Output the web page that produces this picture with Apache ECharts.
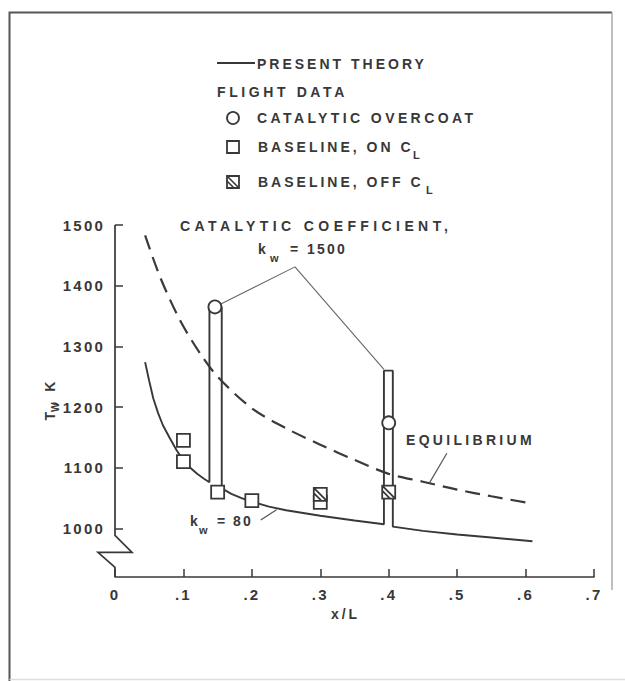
<!DOCTYPE html>
<html><head><meta charset="utf-8">
<script src="https://cdn.jsdelivr.net/npm/echarts@6/dist/echarts.min.js"></script>
<style>
html,body{margin:0;padding:0;background:#fff;}
#chart{width:625px;height:681px;}
#chart text{letter-spacing:3px;}
</style></head><body><div id="chart"></div>
<script>
// ---- data ----
const xTickLabels = ['0', '.1', '.2', '.3', '.4', '.5', '.6', '.7'];
const yTicks = [1000, 1100, 1200, 1300, 1400, 1500];

// present theory (k_w = 80 baseline, jumping to k_w = 1500 on the coated strips)
const theoryX = [0.044, 0.05, 0.056, 0.063, 0.07, 0.08, 0.09, 0.1, 0.11, 0.12, 0.13, 0.138,
                 0.138, 0.156, 0.156, 0.17, 0.185, 0.2, 0.225, 0.25, 0.3, 0.35, 0.393,
                 0.393, 0.406, 0.406, 0.45, 0.5, 0.55, 0.61];
const theoryY = [1274, 1243, 1214, 1190, 1170, 1149, 1129, 1112, 1100, 1090, 1082, 1076,
                 1365, 1365, 1066, 1057, 1050, 1044, 1036, 1030, 1021, 1013, 1007,
                 1260, 1260, 1003, 996, 990, 985, 979];

// equilibrium (dashed)
const equilibriumX = [0.044, 0.066, 0.095, 0.124, 0.15, 0.2, 0.25, 0.3, 0.35, 0.4, 0.45, 0.5, 0.55, 0.61];
const equilibriumY = [1483, 1414, 1343, 1289, 1250, 1198, 1165, 1138, 1113, 1090, 1077, 1064, 1053, 1041];

// flight data
const overcoatX = [0.146, 0.4];
const overcoatY = [1365, 1174];
const baselineOnX = [0.1, 0.1, 0.15, 0.2, 0.3];
const baselineOnY = [1145, 1110, 1060, 1046, 1043];
const baselineOffX = [0.3, 0.4];
const baselineOffY = [1056, 1060];

// leader lines
const leaderCatX = [0.146, 0.263, 0.393];
const leaderCatY = [1365, 1431, 1262];
const leaderEqX = [0.485, 0.46];
const leaderEqY = [1124, 1076];
const leaderK80X = [0.213, 0.236];
const leaderK80Y = [1014, 1031];

const zip = (xs, ys) => xs.map((x, i) => [x, ys[i]]);

const INK = '#383838';
const FONT = "'Liberation Sans', Arial, Helvetica, sans-serif";
const hatchPath = 'path://M0,0 L10,0 L10,10 L0,10 Z M0,0 L10,10 M0,4 L6,10';

const chart = echarts.init(document.getElementById('chart'), null, {renderer: 'svg'});

const option = {
  animation: false,
  backgroundColor: '#fff',
  grid: {left: 115, right: 31, top: 225, bottom: 104},
  xAxis: {
    type: 'value', min: 0, max: 0.7, interval: 0.1,
    name: 'x/L', nameLocation: 'middle', nameGap: 30,
    nameTextStyle: {color: INK, fontSize: 14, fontWeight: 'bold', fontFamily: FONT, padding: [0, 18, 0, 0]},
    axisLine: {show: true, lineStyle: {color: INK, width: 1.6}},
    axisTick: {show: true, inside: true, length: 8, lineStyle: {color: INK, width: 1.5}},
    axisLabel: {
      margin: 10, color: INK, fontSize: 15, fontWeight: 'bold', fontFamily: FONT,
      formatter: v => xTickLabels[Math.round(v * 10)]
    },
    splitLine: {show: false}
  },
  yAxis: {
    type: 'value', min: 920, max: 1500,
    name: '{t|T}{s|W}{n|, K}', nameLocation: 'middle', nameRotate: 90, nameGap: 25,
    nameTextStyle: {
      rich: {
        t: {color: INK, fontSize: 14, fontWeight: 'bold', fontFamily: FONT, lineHeight: 22, verticalAlign: 'middle'},
        s: {color: INK, fontSize: 10, fontWeight: 'bold', fontFamily: FONT, lineHeight: 10, verticalAlign: 'bottom'},
        n: {color: INK, fontSize: 14, fontWeight: 'bold', fontFamily: FONT, lineHeight: 22, verticalAlign: 'middle'}
      }
    },
    axisLine: {show: false},
    axisTick: {show: true, inside: true, length: 8, customValues: yTicks, lineStyle: {color: INK, width: 1.5}},
    axisLabel: {margin: 10, color: INK, fontSize: 15, fontWeight: 'bold', fontFamily: FONT, customValues: yTicks,
                formatter: v => String(v)},
    splitLine: {show: false}
  },
  series: [
    {name: 'leaderCat', type: 'line', data: zip(leaderCatX, leaderCatY), showSymbol: false, symbol: 'none',
     lineStyle: {color: '#666', width: 1.1}, z: 1},
    {name: 'leaderEq', type: 'line', data: zip(leaderEqX, leaderEqY), showSymbol: false, symbol: 'none',
     lineStyle: {color: '#555', width: 1.2}, z: 1},
    {name: 'leaderK80', type: 'line', data: zip(leaderK80X, leaderK80Y), showSymbol: false, symbol: 'none',
     lineStyle: {color: '#555', width: 1.2}, z: 1},
    {name: 'EQUILIBRIUM', type: 'line', data: zip(equilibriumX, equilibriumY), showSymbol: false, symbol: 'none',
     smooth: 0.3, lineStyle: {color: '#3a3a3a', width: 2.2, type: [15, 8]}, z: 2},
    {name: 'PRESENT THEORY', type: 'line', data: zip(theoryX, theoryY), showSymbol: false, symbol: 'none',
     lineStyle: {color: INK, width: 1.9}, z: 3},
    {name: 'BASELINE, ON', type: 'scatter', data: zip(baselineOnX, baselineOnY), symbol: 'rect', symbolSize: 13,
     itemStyle: {color: '#fff', borderColor: INK, borderWidth: 1.8, opacity: 1}, z: 4},
    {name: 'BASELINE, OFF', type: 'scatter', data: zip(baselineOffX, baselineOffY), symbol: hatchPath, symbolSize: 13,
     symbolKeepAspect: true,
     itemStyle: {color: '#fff', borderColor: INK, borderWidth: 1.8, opacity: 1}, z: 5},
    {name: 'CATALYTIC OVERCOAT', type: 'scatter', data: zip(overcoatX, overcoatY), symbol: 'circle', symbolSize: 13,
     itemStyle: {color: '#fff', borderColor: INK, borderWidth: 1.8, opacity: 1}, z: 5}
  ]
};
chart.setOption(option);

// ---- decorations: broken y axis, legend, annotations, frame ----
const px = (x, y) => chart.convertToPixel({gridIndex: 0}, [x, y]);
const axTop = px(0, 1500), ax1000 = px(0, 1000), axBot = px(0, 920);
const ax = axTop[0];
const yb = ax1000[1];
const txt = (x, y, s, extra) => ({
  type: 'text', x: x, y: y,
  style: Object.assign({text: s, fill: INK, font: 'bold 14px ' + FONT, textVerticalAlign: 'middle', textAlign: 'left'}, extra || {})
});
const small = (x, y, s) => txt(x, y, s, {font: 'bold 11px ' + FONT});

const graphics = [
  // frame
  {type: 'polyline', shape: {points: [[9.5, 681], [9.5, 12.5], [612, 12.5]]}, style: {stroke: '#555', lineWidth: 2, fill: 'none'}},
  {type: 'line', shape: {x1: 612, y1: 12.5, x2: 612, y2: 590}, style: {stroke: '#aaa', lineWidth: 1.5}},
  {type: 'line', shape: {x1: 9.5, y1: 679.5, x2: 625, y2: 679.5}, style: {stroke: '#ddd', lineWidth: 1.5}},
  // y axis with break
  {type: 'polyline', shape: {points: [
      [ax, axTop[1]], [ax, yb + 7], [ax + 17, yb + 24], [ax - 17, yb + 24], [ax, yb + 39], [ax, axBot[1]]]},
   style: {stroke: INK, lineWidth: 1.7, fill: 'none'}, z: 10},
  // legend
  {type: 'line', shape: {x1: 217, y1: 63, x2: 255, y2: 63}, style: {stroke: INK, lineWidth: 2}},
  txt(257, 64, 'PRESENT THEORY'),
  txt(217, 92, 'FLIGHT DATA'),
  {type: 'circle', shape: {cx: 233, cy: 118, r: 6}, style: {stroke: INK, lineWidth: 1.8, fill: '#fff'}},
  txt(257, 118, 'CATALYTIC OVERCOAT'),
  {type: 'rect', shape: {x: 227, y: 141, width: 12, height: 12}, style: {stroke: INK, lineWidth: 1.8, fill: '#fff'}},
  txt(258, 147, 'BASELINE, ON C'), small(413, 155, 'L'),
  {type: 'rect', shape: {x: 227, y: 176, width: 12, height: 12}, style: {stroke: INK, lineWidth: 1.8, fill: '#fff'}},
  {type: 'polyline', shape: {points: [[227, 176], [239, 188]]}, style: {stroke: INK, lineWidth: 1.6, fill: 'none'}},
  {type: 'polyline', shape: {points: [[227, 181], [234, 188]]}, style: {stroke: INK, lineWidth: 1.6, fill: 'none'}},
  txt(258, 182, 'BASELINE, OFF C'), small(426, 190, 'L'),
  // annotations
  txt(180, 226, 'CATALYTIC COEFFICIENT,'),
  txt(258, 249, 'k'), small(270, 258, 'w'), txt(290, 249, '='), txt(307, 249, '1500'),
  txt(406, 440, 'EQUILIBRIUM'),
  txt(190, 521, 'k'), small(199, 530, 'w'), txt(217, 521, '='), txt(233, 521, '80')
];
chart.setOption({graphic: graphics});

function spacing() {
  document.querySelectorAll('#chart text').forEach(t => {
    const s = t.textContent;
    let ls = '3px';
    if (/^[\d.]+$/.test(s)) ls = '2.2px';
    else if (s.indexOf('COEFFICIENT') >= 0) ls = '4.4px';
    else if (s.indexOf('OVERCOAT') >= 0) ls = '3.4px';
    else if (s.indexOf('FLIGHT') >= 0) ls = '3.6px';
    else if (s.indexOf('EQUILIBRIUM') >= 0) ls = '3.3px';
    else if (s === 'L') ls = '0px';
    t.style.letterSpacing = ls;
  });
}
chart.on('finished', spacing);
setTimeout(spacing, 50);
</script></body></html>
